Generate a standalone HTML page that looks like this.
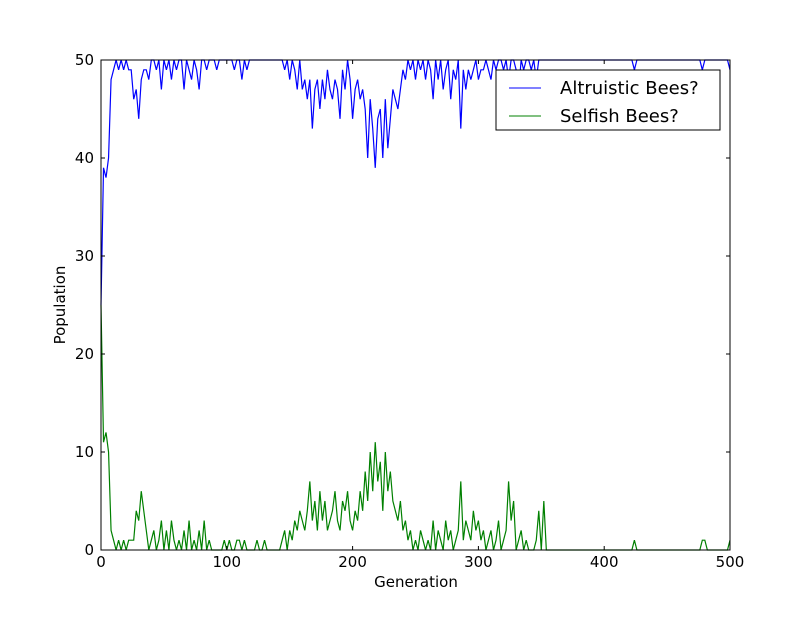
<!DOCTYPE html>
<html><head><meta charset="utf-8"><style>
body{margin:0;background:#fff;}
svg text{font-family:"DejaVu Sans","Liberation Sans",sans-serif;fill:#000;}
</style></head><body>
<svg id="chart" width="812" height="612" xmlns="http://www.w3.org/2000/svg">
<rect x="0" y="0" width="812" height="612" fill="#fff"/>
<g id="series"></g>
<rect x="101" y="60" width="629" height="490" fill="none" stroke="#000" stroke-width="1"/>
<g id="ticks"></g>
<text x="416" y="587" font-size="15" text-anchor="middle">Generation</text>
<text x="65" y="305" font-size="15" text-anchor="middle" transform="rotate(-90 65 305)">Population</text>
<g>
<rect x="496" y="70" width="224" height="60" fill="#fff" stroke="#000" stroke-width="1"/>
<line x1="509" y1="88" x2="541" y2="88" stroke="#0000ff" stroke-width="1"/>
<text x="560" y="94" font-size="18">Altruistic Bees?</text>
<line x1="509" y1="116" x2="541" y2="116" stroke="#008000" stroke-width="1"/>
<text x="560" y="122" font-size="18">Selfish Bees?</text>
</g>
</svg>
<script>
const genStep = 2;
const altruistic = [25,39,38,40,48,49,50,49,50,49,
50,49,49,46,47,44,48,49,49,48,
50,50,49,50,47,50,49,50,48,50,
49,50,50,47,50,49,48,50,49,47,
50,50,49,50,50,50,49,50,50,50,
50,50,50,49,50,50,48,50,49,50,
50,50,50,50,50,50,50,50,50,50,
50,50,50,49,50,48,50,49,47,50,
47,48,46,48,43,47,48,45,48,46,
49,47,46,48,47,44,49,47,50,48,
44,47,48,46,47,45,40,46,43,39,
44,45,40,46,41,44,47,46,45,47,
49,48,50,49,50,48,50,49,50,48,
50,49,46,50,48,50,47,49,50,46,
49,48,50,43,49,47,49,48,49,50,
48,49,49,50,49,48,50,49,50,50,
49,50,48,50,50,49,47,50,49,50,
50,49,50,48,50,50,50,50,50,50,
50,50,50,50,50,50,50,50,50,50,
50,50,50,50,50,50,50,50,50,50,
50,50,50,50,50,50,50,50,50,50,
50,50,49,50,50,50,50,50,50,50,
50,50,50,50,50,50,50,50,50,50,
50,50,50,50,50,50,50,50,50,49,
50,50,50,50,50,50,50,50,50,50,
49];
const selfish = [25,11,12,10,2,1,0,1,0,1,
0,1,1,1,4,3,6,4,2,0,
1,2,0,1,3,0,2,0,3,1,
0,1,0,2,0,3,0,1,0,2,
0,3,0,1,0,0,0,0,0,1,
0,1,0,0,1,1,0,1,0,0,
0,0,1,0,0,1,0,0,0,0,
0,0,1,2,0,2,1,3,2,4,
3,2,4,7,3,5,2,6,3,5,
2,3,4,6,3,2,5,4,6,3,
2,4,3,6,4,8,5,10,6,11,
7,9,4,10,6,8,5,4,3,5,
2,3,1,2,0,1,0,2,1,0,
1,0,3,0,2,1,0,3,1,2,
0,1,2,7,1,3,2,1,4,2,
3,1,2,0,1,2,0,1,3,0,
1,2,7,3,5,0,1,2,0,1,
0,0,0,1,4,0,5,0,0,0,
0,0,0,0,0,0,0,0,0,0,
0,0,0,0,0,0,0,0,0,0,
0,0,0,0,0,0,0,0,0,0,
0,0,1,0,0,0,0,0,0,0,
0,0,0,0,0,0,0,0,0,0,
0,0,0,0,0,0,0,0,0,1,
1,0,0,0,0,0,0,0,0,0,
1];
const xTicks = [0,100,200,300,400,500];
const yTicks = [0,10,20,30,40,50];

const X0=101,X1=730,Y0=550,Y1=60;
function xs(v){return X0+(v-0)/500*(X1-X0);}
function ys(v){return Y0-(v-0)/50*(Y0-Y1);}
const NS='http://www.w3.org/2000/svg';
const series=document.getElementById('series');
function drawLine(vals,color,name){
  const p=document.createElementNS(NS,'polyline');
  p.setAttribute('points',vals.map((v,i)=>xs(i*genStep).toFixed(2)+','+ys(v).toFixed(2)).join(' '));
  p.setAttribute('fill','none');p.setAttribute('stroke',color);p.setAttribute('stroke-width','1.2');
  
  
  series.appendChild(p);
}
drawLine(altruistic,'#0000ff','altruistic-line');
drawLine(selfish,'#008000','selfish-line');
const ticks=document.getElementById('ticks');
function mk(tag,attrs){const e=document.createElementNS(NS,tag);for(const k in attrs)e.setAttribute(k,attrs[k]);ticks.appendChild(e);return e;}
xTicks.forEach(t=>{
  const x=xs(t);
  const a=mk('line',{x1:x,y1:Y0,x2:x,y2:Y0-4,stroke:'#000'});
  
  
  const b=mk('line',{x1:x,y1:Y1,x2:x,y2:Y1+4,stroke:'#000'});
  
  
  const l=mk('text',{x:x,y:567,'font-size':15,'text-anchor':'middle'});
  l.textContent=t;
  
  
});
yTicks.forEach(t=>{
  const y=ys(t);
  const a=mk('line',{x1:X0,y1:y,x2:X0+4,y2:y,stroke:'#000'});
  
  
  const b=mk('line',{x1:X1,y1:y,x2:X1-4,y2:y,stroke:'#000'});
  
  
  const l=mk('text',{x:94,y:y+5,'font-size':15,'text-anchor':'end'});
  l.textContent=t;
  
  
});
</script>
</body></html>
